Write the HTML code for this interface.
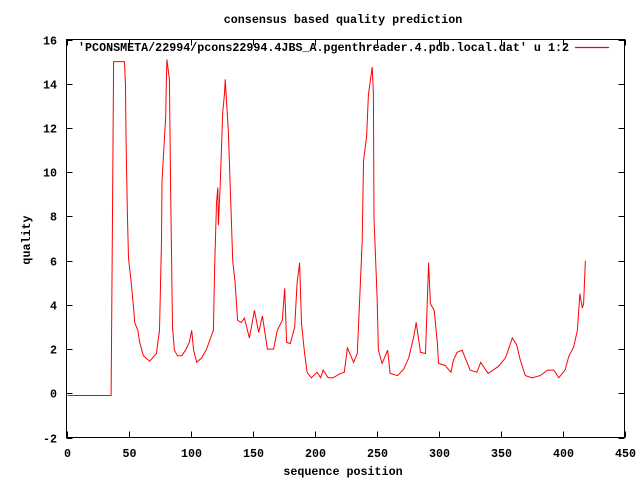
<!DOCTYPE html>
<html><head><meta charset="utf-8"><style>
body{margin:0;background:#fff}
svg{display:block}
text{font-family:"Liberation Mono",monospace;font-size:11.7px;font-weight:bold;fill:#000}
</style></head><body>
<svg id="chart" width="640" height="480" viewBox="0 0 640 480" xmlns="http://www.w3.org/2000/svg">
<rect x="0" y="0" width="640" height="480" fill="#fff"/>
<g id="axes"></g>
<rect x="66.5" y="39.5" width="558" height="398" fill="none" stroke="#000" stroke-width="1"/>
<text x="343" y="23" text-anchor="middle">consensus based quality prediction</text>
<text x="343" y="475" text-anchor="middle">sequence position</text>
<text x="30" y="240" text-anchor="middle" transform="rotate(-90 30 240)">quality</text>
<text x="569" y="51" text-anchor="end">'PCONSMETA/22994/pcons22994.4JBS_A.pgenthreader.4.pdb.local.dat' u 1:2</text>
<line x1="575" y1="47.5" x2="609" y2="47.5" style="stroke:#ff0000;stroke-width:1.2"/>
<polyline id="series" style="fill:none;stroke:#ff0000;stroke-width:1"/>
</svg>
<script>
const xTicks=[0,50,100,150,200,250,300,350,400,450];
const yTicks=[-2,0,2,4,6,8,10,12,14,16];
const positions=[1,36,37,38,46.8,47.6,48,49,50,52,54,55,57.5,59,62,67,72.5,75,76.6,77,80,80.6,81,83,84,85,85.5,87,89.5,93,96,99,101,102.5,105,109,113,118.5,119.5,121,122,122.5,124,126,127.5,128,130.5,133,134,136,138,141,143.5,147.5,151.5,155,158,162,167,170,174,176,177.5,180.5,184,186,188,189.5,192,194,197.5,202,205,207,211,215,221,224,226.5,231.5,234.5,237,238.5,239.5,242,243.5,246.5,247.5,248,250.5,251.5,254.5,259,261,267,272,276,280,282,285.5,289.5,292,293.5,296.5,299,300,305.5,310,312,315,319,325.5,331,334,340,348,354,359.5,363,366,370,375.5,382,388,393,397,402,405,409,412,414,416,417,418.5];
const quality=[-0.1,-0.1,7.5,15,15,13.9,11.6,8.3,6.1,5.1,3.9,3.2,2.85,2.3,1.7,1.45,1.8,2.85,6.9,9.6,12.5,14.2,15.1,14.2,9.0,5.0,3.0,1.95,1.7,1.7,1.95,2.3,2.85,1.95,1.4,1.6,2.0,2.85,5.8,8.6,9.3,7.6,9.5,12.7,13.6,14.2,11.9,7.8,6.0,5.0,3.3,3.2,3.4,2.5,3.75,2.75,3.5,2.0,2.0,2.85,3.3,4.75,2.3,2.25,3.0,5.0,5.9,3.15,1.8,0.95,0.7,0.95,0.7,1.05,0.7,0.7,0.9,0.95,2.05,1.4,1.8,5.0,6.9,10.5,11.6,13.5,14.75,13.6,7.9,4.35,1.95,1.35,1.95,0.9,0.8,1.1,1.6,2.55,3.2,1.85,1.8,5.9,4.05,3.75,2.3,1.35,1.25,0.95,1.5,1.85,1.95,1.05,0.95,1.4,0.9,1.2,1.6,2.5,2.2,1.5,0.8,0.7,0.8,1.05,1.05,0.7,1.05,1.65,2.1,2.85,4.5,3.85,4.05,6.0];
const X0=66.5,X1=624.5,Y0=437.5,Y1=39.5;
const sx=v=>X0+(v-0)/(450-0)*(X1-X0);
const sy=v=>Y0-(v-(-2))/(16-(-2))*(Y0-Y1);
const NS="http://www.w3.org/2000/svg";
const axes=document.getElementById('axes');
function mk(tag,attrs){const e=document.createElementNS(NS,tag);for(const k in attrs)e.setAttribute(k,attrs[k]);return e;}
xTicks.forEach(t=>{
  const x=Math.round(sx(t))+0.5;
  const l1=mk('line',{x1:x,y1:Y0,x2:x,y2:Y0-6,stroke:'#000'});
  
  
  axes.appendChild(l1);
  const l2=mk('line',{x1:x,y1:Y1,x2:x,y2:Y1+6,stroke:'#000'});
  
  
  axes.appendChild(l2);
  const tx=mk('text',{x:x,y:457,'text-anchor':'middle'});
  tx.textContent=t;
  
  
  axes.appendChild(tx);
});
yTicks.forEach(t=>{
  const y=Math.round(sy(t))+0.5;
  const l1=mk('line',{x1:X0,y1:y,x2:X0+6,y2:y,stroke:'#000'});
  
  
  axes.appendChild(l1);
  const l2=mk('line',{x1:X1,y1:y,x2:X1-6,y2:y,stroke:'#000'});
  
  
  axes.appendChild(l2);
  const tx=mk('text',{x:57,y:y+4,'text-anchor':'end'});
  tx.textContent=t;
  
  
  axes.appendChild(tx);
});
document.getElementById('series').setAttribute('points',positions.map((p,i)=>sx(p).toFixed(1)+','+sy(quality[i]).toFixed(1)).join(' '));
</script>
</body></html>
